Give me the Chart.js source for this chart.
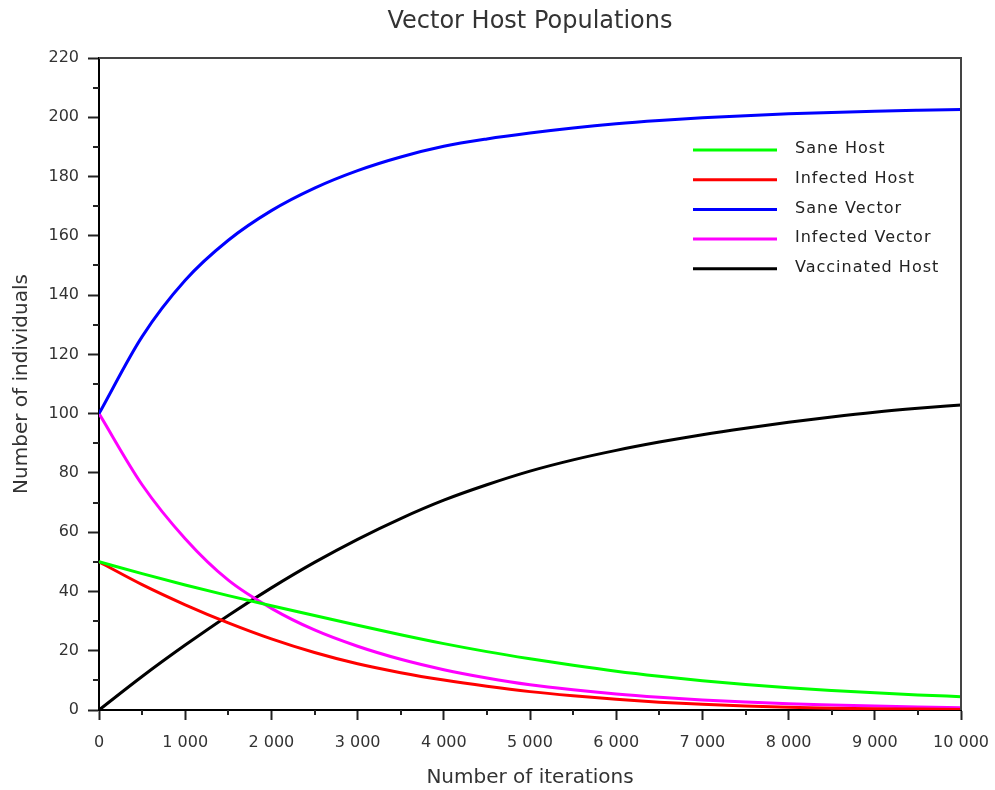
<!DOCTYPE html>
<html>
<head>
<meta charset="utf-8">
<title>Vector Host Populations</title>
<script src="https://cdn.jsdelivr.net/npm/chart.js@4.4.1/dist/chart.umd.min.js"></script>
<style>
    html, body { margin: 0; padding: 0; background: #ffffff; }
    #wrap { width: 995px; height: 790px; }
</style>
</head>
<body>
<div id="wrap"><canvas id="popChart" width="995" height="790"></canvas></div>
<script>
// ===============================
// DATA
// ===============================
const iterations = [0, 500, 1000, 1500, 2000, 2500, 3000, 3500, 4000, 4500, 5000,
                    5500, 6000, 6500, 7000, 7500, 8000, 8500, 9000, 9500, 10000];

const saneHost       = [50, 46, 42.2, 38.6, 35.2, 31.9, 28.6, 25.4, 22.4, 19.7, 17.3,
                        15.1, 13.1, 11.4, 9.9, 8.6, 7.5, 6.6, 5.8, 5.1, 4.5];
const infectedHost   = [50, 42.3, 35.5, 29.4, 24, 19.4, 15.6, 12.6, 10.1, 8.0, 6.2,
                        4.8, 3.6, 2.65, 1.9, 1.35, 0.9, 0.6, 0.4, 0.3, 0.2];
const saneVector     = [100, 126, 145, 158.5, 168.5, 176.1, 182, 186.6, 190.2, 192.7, 194.7,
                        196.4, 197.8, 198.9, 199.8, 200.55, 201.15, 201.65, 202.05, 202.35, 202.6];
const infectedVector = [100, 76, 57.8, 43.8, 34.3, 27, 21.5, 17.1, 13.6, 10.8, 8.5,
                        6.8, 5.4, 4.3, 3.4, 2.7, 2.1, 1.7, 1.35, 1.05, 0.8];
const vaccinatedHost = [0, 11.3, 21.9, 31.9, 41.2, 49.8, 57.6, 64.6, 70.8, 76.0, 80.6,
                        84.4, 87.6, 90.4, 92.9, 95.1, 97.1, 98.9, 100.5, 101.8, 102.9];

const seriesLabels = ["Sane Host", "Infected Host", "Sane Vector", "Infected Vector", "Vaccinated Host"];
const seriesColors = ["#00ff00", "#ff0000", "#0000ff", "#ff00ff", "#000000"];

const xMin = 0, xMax = 10000, xMajor = 1000, xMinor = 500;
const yMin = 0, yMax = 220, yMajor = 20, yMinor = 10;

const FONT = "'DejaVu Sans', sans-serif";
const TEXT = "#333333";

function spaced(v) {
    return String(v).replace(/\B(?=(\d{3})+(?!\d))/g, " ");
}

function points(values) {
    return iterations.map((it, i) => ({ x: it, y: values[i] }));
}

// minor ticks + top/right frame
const frameAndMinor = {
    id: "frameAndMinor",
    afterDraw(chart) {
        const { ctx, chartArea, scales: { x, y } } = chart;
        ctx.save();
        ctx.strokeStyle = "#222";
        ctx.lineWidth = 2;
        ctx.beginPath();
        for (let v = xMin + xMinor; v < xMax; v += xMajor) {
            const px = Math.round(x.getPixelForValue(v));
            ctx.moveTo(px, chartArea.bottom);
            ctx.lineTo(px, chartArea.bottom + 5);
        }
        for (let v = yMin + yMinor; v < yMax; v += yMajor) {
            const py = Math.round(y.getPixelForValue(v));
            ctx.moveTo(chartArea.left, py);
            ctx.lineTo(chartArea.left - 6, py);
        }
        ctx.stroke();

        ctx.strokeStyle = "#444";
        ctx.beginPath();
        ctx.moveTo(chartArea.left, chartArea.top);
        ctx.lineTo(chartArea.right, chartArea.top);
        ctx.lineTo(chartArea.right, chartArea.bottom);
        ctx.stroke();
        ctx.restore();
    }
};

// legend drawn inside the plot, upper right
const insideLegend = {
    id: "insideLegend",
    afterDraw(chart) {
        const { ctx, chartArea } = chart;
        const x0 = chartArea.right - 268;
        const y0 = chartArea.top + 92;
        ctx.save();
        ctx.font = "16px " + FONT;
        ctx.letterSpacing = "1px";
        ctx.fillStyle = "#222";
        ctx.textBaseline = "middle";
        ctx.lineWidth = 3;
        chart.data.datasets.forEach((ds, i) => {
            const yy = y0 + i * 29.7;
            ctx.strokeStyle = ds.borderColor;
            ctx.beginPath();
            ctx.moveTo(x0, yy);
            ctx.lineTo(x0 + 84, yy);
            ctx.stroke();
            ctx.fillText(ds.label, x0 + 102, yy - 1);
        });
        ctx.restore();
    }
};

const allSeries = [saneHost, infectedHost, saneVector, infectedVector, vaccinatedHost];

new Chart(document.getElementById("popChart"), {
    type: "line",
    data: {
        datasets: allSeries.map((s, i) => ({
            label: seriesLabels[i],
            data: points(s),
            borderColor: seriesColors[i],
            backgroundColor: seriesColors[i],
            borderWidth: 3,
            pointRadius: 0,
            fill: false,
            cubicInterpolationMode: "monotone"
        }))
    },
    options: {
        responsive: false,
        animation: false,
        layout: { padding: { left: 0, right: 34, top: 0, bottom: 0 } },
        plugins: {
            legend: { display: false },
            tooltip: { enabled: false },
            title: {
                display: true,
                text: "Vector Host Populations",
                color: TEXT,
                fullSize: false,
                font: { family: FONT, size: 24, weight: "normal" },
                padding: { top: 7, bottom: 22.2 }
            }
        },
        scales: {
            x: {
                type: "linear",
                min: xMin,
                max: xMax,
                afterFit(scale) {
                    scale.height = 80;
                    scale.paddingRight = 0;
                    scale.paddingLeft = 0;
                },
                border: { display: true, color: "#000", width: 2 },
                grid: { drawOnChartArea: false, drawTicks: true, tickLength: 10, tickColor: "#222", tickWidth: 2 },
                ticks: {
                    stepSize: xMajor,
                    autoSkip: false,
                    maxRotation: 0,
                    padding: 13,
                    color: TEXT,
                    font: { family: FONT, size: 16 },
                    callback: v => spaced(v)
                },
                title: {
                    display: true,
                    text: "Number of iterations",
                    color: TEXT,
                    font: { family: FONT, size: 20 },
                    padding: { top: 0, bottom: 0 }
                }
            },
            y: {
                min: yMin,
                max: yMax,
                afterFit(scale) { scale.width = 99; },
                border: { display: true, color: "#000", width: 2 },
                grid: { drawOnChartArea: false, drawTicks: true, tickLength: 11, tickColor: "#222", tickWidth: 2 },
                ticks: {
                    stepSize: yMajor,
                    padding: 9,
                    color: TEXT,
                    font: { family: FONT, size: 16 }
                },
                title: {
                    display: true,
                    text: "Number of individuals",
                    color: TEXT,
                    font: { family: FONT, size: 20 },
                    padding: { top: 10, bottom: 0 }
                }
            }
        }
    },
    plugins: [frameAndMinor, insideLegend]
});
</script>
</body>
</html>
